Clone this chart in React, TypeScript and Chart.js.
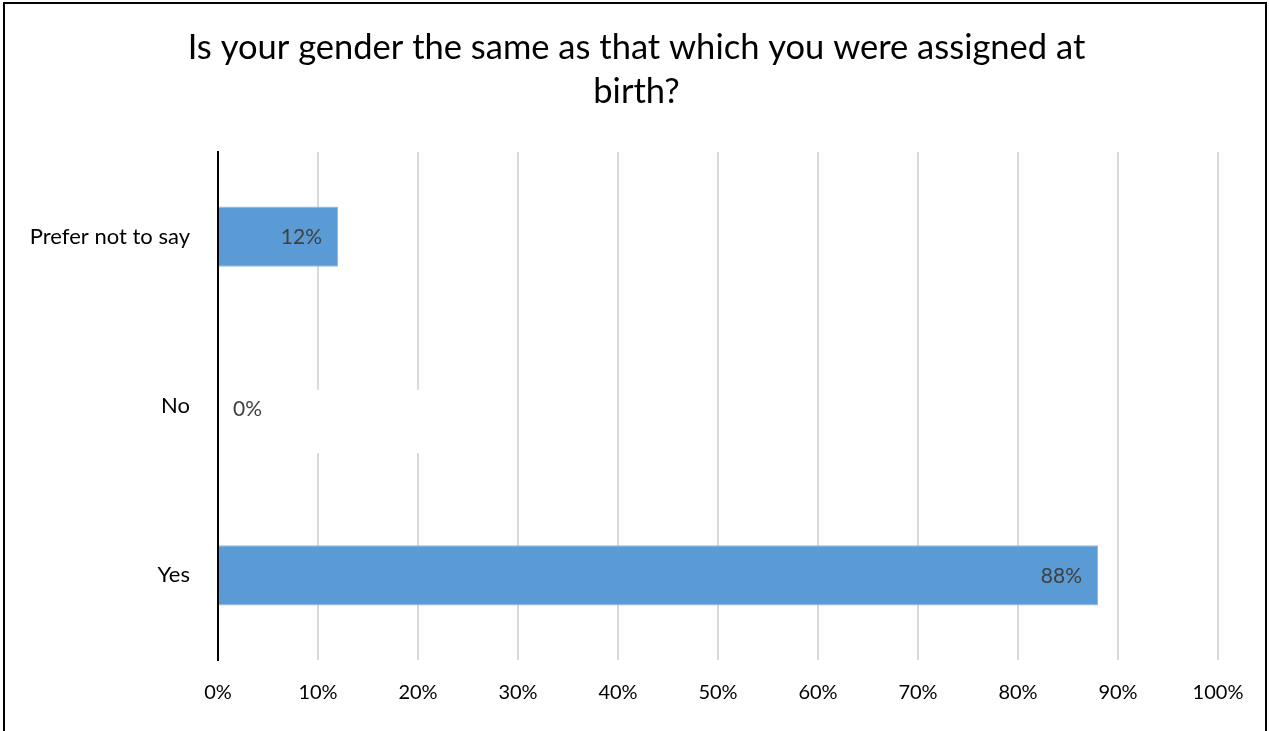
import React, { useEffect, useRef } from "react";
import { Chart, registerables } from "chart.js";

Chart.register(...registerables);

const TITLE_LINES = [
  "Is your gender the same as that which you were assigned at",
  "birth?",
];
const CATEGORIES = ["Prefer not to say", "No", "Yes"];
const VALUES = [12, 0, 88];
const X_TICKS = [0, 10, 20, 30, 40, 50, 60, 70, 80, 90, 100];
const ZERO_BOX_SPAN = 20;

const FONT = "Lato";

export default function App() {
  const ref = useRef<HTMLCanvasElement>(null);

  useEffect(() => {
    if (!ref.current) return;

    const titlePlugin = {
      id: "centeredTitle",
      afterDraw(chart: any) {
        const { ctx } = chart;
        ctx.save();
        ctx.font = `34.5px ${FONT}`;
        ctx.fillStyle = "#000000";
        ctx.textAlign = "center";
        ctx.textBaseline = "alphabetic";
        const cx = chart.width / 2 + 2;
        TITLE_LINES.forEach((line, i) => {
          ctx.fillText(line, cx, 59 + i * 44);
        });
        ctx.restore();
      },
    };

    const labelPlugin = {
      id: "barLabels",
      afterDatasetsDraw(chart: any) {
        const { ctx } = chart;
        const meta = chart.getDatasetMeta(0);
        const xs = chart.scales.x;
        ctx.save();
        ctx.font = `21px ${FONT}`;
        ctx.textBaseline = "middle";
        meta.data.forEach((bar: any, i: number) => {
          const v = VALUES[i];
          const label = v + "%";
          if (v > 0) {
            ctx.fillStyle = "#404040";
            ctx.textAlign = "right";
            ctx.fillText(label, bar.x - 16, bar.y + 1);
          } else {
            const x0 = xs.getPixelForValue(0);
            ctx.fillStyle = "#ffffff";
            ctx.fillRect(
              x0 + 2,
              bar.y - bar.height / 2 + 14,
              xs.getPixelForValue(ZERO_BOX_SPAN) - x0 + 1,
              bar.height + 3
            );
            ctx.fillStyle = "#404040";
            ctx.textAlign = "left";
            ctx.fillText(label, x0 + 15, bar.y + 3);
          }
        });
        ctx.restore();
      },
    };

    const chart = new Chart(ref.current, {
      type: "bar",
      data: {
        labels: CATEGORIES,
        datasets: [
          {
            data: VALUES,
            backgroundColor: "#5B9BD5",
            borderColor: "#8FBBE5",
            borderWidth: 1,
            barPercentage: 0.355,
            categoryPercentage: 1,
          },
        ],
      },
      options: {
        indexAxis: "y",
        responsive: false,
        maintainAspectRatio: false,
        animation: false,
        layout: { padding: { left: 0, right: 51, top: 152, bottom: 0 } },
        plugins: {
          legend: { display: false },
          tooltip: { enabled: false },
          title: { display: false },
        },
        scales: {
          x: {
            min: 0,
            max: 100,
            afterBuildTicks: (s: any) => {
              s.ticks = X_TICKS.map((v) => ({ value: v }));
            },
            ticks: {
              callback: (v: any) => v + "%",
              color: "#000000",
              font: { family: FONT, size: 20 },
              padding: 21,
              maxRotation: 0,
              autoSkip: false,
            },
            grid: { color: "#d9d9d9", lineWidth: 2, drawTicks: false },
            border: { display: false },
            afterFit: (s: any) => {
              s.height = 71;
            },
          },
          y: {
            ticks: {
              color: "#000000",
              font: { family: FONT, size: 22 },
              padding: 28,
            },
            grid: { display: false, drawTicks: false },
            border: { display: true, color: "#000000", width: 2 },
            afterFit: (s: any) => {
              s.width = 218;
            },
          },
        },
      },
      plugins: [labelPlugin, titlePlugin],
    } as any);

    return () => chart.destroy();
  }, []);

  return (
    <div
      style={{
        position: "fixed",
        left: 0,
        top: 0,
        width: 1269,
        height: 731,
        overflow: "hidden",
        background: "#ffffff",
      }}
    >
      <canvas
        ref={ref}
        width={1269}
        height={731}
        style={{ position: "absolute", left: 0, top: 0, width: 1269, height: 731 }}
      />
      <div
        style={{
          position: "absolute",
          left: 3,
          top: 2,
          width: 1260,
          height: 800,
          border: "2px solid #000000",
          pointerEvents: "none",
        }}
      />
    </div>
  );
}
